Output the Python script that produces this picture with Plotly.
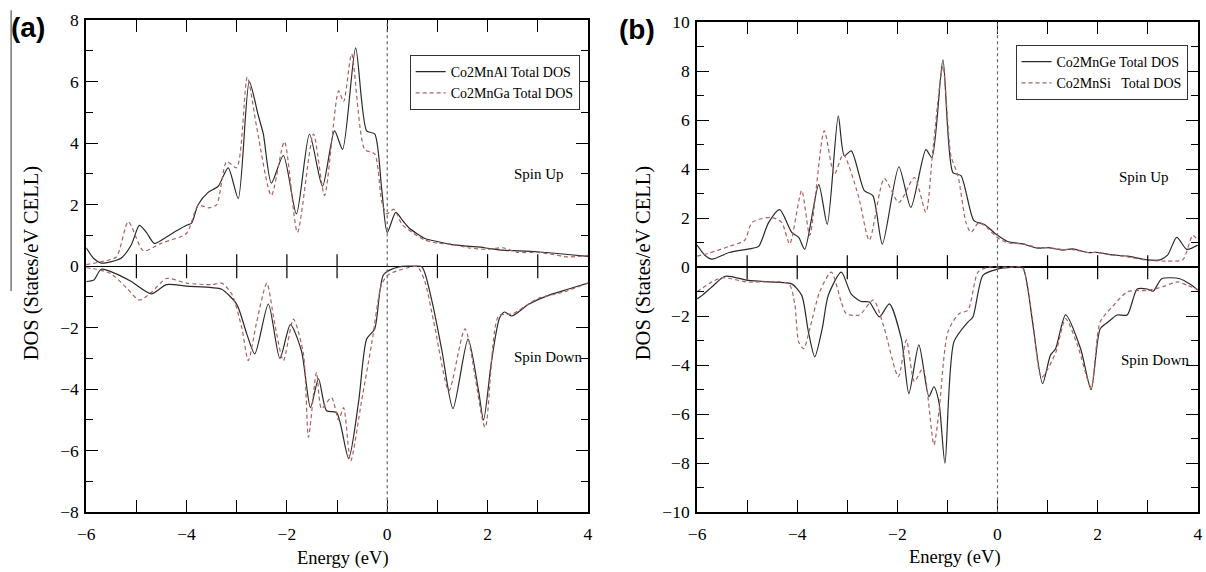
import plotly.graph_objects as go

# ---------------- data ----------------
# Panel (a) spin up
a_up_al_x = [-6.0, -5.85, -5.7, -5.5, -5.3, -5.1, -4.94, -4.8, -4.64, -4.4, -4.2, -4.0, -3.9, -3.77, -3.57, -3.37, -3.17, -2.97, -2.75, -2.57, -2.47, -2.31, -2.07, -1.81, -1.55, -1.29, -1.05, -0.89, -0.63, -0.41, -0.25, -0.11, 0.0, 0.17, 0.3, 0.43, 0.6, 0.75, 1.0, 1.29, 1.6, 1.94, 2.3, 2.62, 3.0, 3.28, 3.6, 4.0]
a_up_al_y = [0.6, 0.25, 0.1, 0.15, 0.27, 0.7, 1.33, 1.1, 0.74, 0.95, 1.15, 1.33, 1.4, 2.0, 2.4, 2.6, 3.2, 2.2, 6.0, 4.9, 4.3, 2.7, 3.6, 1.7, 4.3, 2.6, 4.4, 3.8, 7.1, 4.4, 4.3, 2.5, 1.1, 1.75, 1.5, 1.25, 1.05, 0.9, 0.8, 0.7, 0.65, 0.6, 0.52, 0.5, 0.47, 0.43, 0.38, 0.32]
a_up_ga_x = [-6.0, -5.7, -5.4, -5.16, -4.86, -4.5, -4.0, -3.77, -3.55, -3.4, -3.2, -3.0, -2.79, -2.6, -2.31, -2.05, -1.79, -1.47, -1.25, -0.97, -0.87, -0.71, -0.45, -0.25, -0.11, -0.01, 0.13, 0.3, 0.5, 0.75, 1.0, 1.3, 1.6, 2.0, 2.3, 2.6, 3.0, 3.3, 3.6, 4.0]
a_up_ga_y = [0.05, 0.15, 0.3, 1.45, 0.5, 0.75, 1.07, 1.97, 1.9, 2.0, 3.4, 3.2, 6.15, 4.5, 2.3, 4.05, 1.1, 4.3, 2.3, 5.7, 5.35, 6.9, 3.8, 3.65, 2.1, 1.7, 1.85, 1.35, 1.1, 0.85, 0.75, 0.72, 0.6, 0.55, 0.6, 0.45, 0.45, 0.38, 0.3, 0.35]
# Panel (a) spin down
a_dn_al_x = [-6.0, -5.85, -5.7, -5.4, -5.1, -4.7, -4.4, -4.0, -3.5, -3.3, -3.0, -2.8, -2.64, -2.37, -2.14, -1.93, -1.71, -1.53, -1.37, -1.21, -1.01, -0.77, -0.57, -0.41, -0.25, -0.07, 0.23, 0.5, 0.69, 0.89, 1.09, 1.31, 1.61, 1.82, 1.92, 2.08, 2.24, 2.34, 2.48, 2.82, 3.28, 3.6, 4.0]
a_dn_al_y = [-0.5, -0.45, -0.1, -0.25, -0.5, -0.9, -0.6, -0.65, -0.7, -0.75, -1.24, -2.2, -2.85, -1.23, -3.0, -1.9, -2.75, -4.6, -3.66, -4.7, -4.76, -6.25, -4.4, -2.37, -2.04, -0.27, -0.02, 0.0, -0.02, -1.13, -2.75, -4.63, -2.37, -4.05, -5.0, -3.07, -1.68, -1.49, -1.62, -1.24, -0.91, -0.75, -0.55]
a_dn_ga_x = [-6.0, -5.8, -5.5, -5.2, -4.94, -4.7, -4.4, -4.0, -3.5, -3.3, -3.1, -2.9, -2.77, -2.6, -2.4, -2.25, -2.07, -1.87, -1.67, -1.57, -1.41, -1.31, -1.11, -0.97, -0.87, -0.73, -0.51, -0.31, -0.11, 0.03, 0.3, 0.6, 0.75, 0.95, 1.23, 1.55, 1.95, 2.22, 2.5, 3.0, 3.5, 4.0]
a_dn_ga_y = [-0.05, -0.1, -0.25, -0.7, -1.1, -0.85, -0.4, -0.55, -0.6, -0.55, -0.9, -2.0, -3.07, -1.8, -0.55, -1.8, -3.07, -1.72, -2.85, -5.56, -3.46, -4.63, -4.27, -5.0, -4.6, -6.34, -4.37, -2.52, -0.58, -0.27, -0.1, -0.02, -0.5, -2.0, -4.05, -2.04, -5.24, -1.62, -1.55, -1.05, -0.85, -0.55]

# Panel (b) spin up
b_up_ge_x = [-6.0, -5.85, -5.7, -5.36, -4.9, -4.77, -4.57, -4.35, -4.11, -3.97, -3.85, -3.57, -3.4, -3.18, -3.06, -2.92, -2.66, -2.49, -2.3, -1.97, -1.73, -1.43, -1.31, -1.09, -0.89, -0.73, -0.47, -0.27, 0.0, 0.2, 0.5, 0.8, 1.0, 1.3, 1.5, 1.8, 2.0, 2.3, 2.6, 3.0, 3.25, 3.4, 3.58, 3.78, 4.0]
b_up_ge_y = [0.9, 0.5, 0.33, 0.6, 0.77, 0.85, 1.83, 2.35, 1.42, 1.22, 0.73, 3.37, 1.75, 6.18, 4.55, 4.75, 3.13, 2.92, 0.94, 4.1, 2.44, 4.8, 4.47, 8.46, 3.86, 3.74, 1.9, 1.75, 1.3, 1.05, 0.95, 0.78, 0.8, 0.7, 0.75, 0.6, 0.6, 0.5, 0.45, 0.3, 0.3, 0.5, 1.22, 0.73, 0.9]
b_up_si_x = [-6.0, -5.8, -5.36, -5.05, -4.9, -4.51, -4.31, -4.15, -3.91, -3.75, -3.46, -3.26, -3.08, -2.78, -2.56, -2.26, -1.97, -1.66, -1.43, -1.29, -1.09, -0.93, -0.79, -0.63, -0.53, -0.37, -0.2, 0.0, 0.2, 0.5, 0.8, 1.0, 1.3, 1.5, 1.8, 2.0, 2.3, 2.6, 3.0, 3.4, 3.7, 3.9, 4.0]
b_up_si_y = [0.45, 0.55, 0.85, 1.1, 1.83, 2.03, 1.83, 0.95, 3.13, 1.3, 5.57, 3.78, 4.6, 2.92, 1.1, 3.62, 2.64, 3.66, 2.24, 4.8, 8.2, 4.55, 3.74, 1.83, 1.42, 1.83, 1.6, 1.2, 1.0, 0.95, 0.8, 0.8, 0.72, 0.72, 0.6, 0.6, 0.5, 0.42, 0.28, 0.25, 0.3, 1.3, 1.1]
# Panel (b) spin down
b_dn_ge_x = [-6.0, -5.9, -5.7, -5.44, -4.97, -4.45, -4.11, -3.91, -3.78, -3.65, -3.5, -3.38, -3.12, -2.92, -2.72, -2.56, -2.36, -2.16, -1.92, -1.77, -1.57, -1.37, -1.27, -1.17, -1.05, -0.87, -0.59, -0.49, -0.29, 0.0, 0.3, 0.5, 0.6, 0.7, 0.9, 1.06, 1.16, 1.36, 1.66, 1.87, 2.05, 2.21, 2.39, 2.59, 2.79, 2.99, 3.11, 3.28, 3.64, 3.85, 4.0]
b_dn_ge_y = [-1.3, -1.15, -0.8, -0.37, -0.54, -0.61, -0.68, -1.15, -2.6, -3.66, -2.5, -1.15, -0.2, -1.1, -1.4, -1.42, -2.03, -1.5, -2.93, -5.16, -3.17, -5.28, -4.88, -5.5, -8.0, -3.05, -2.24, -2.03, -0.33, -0.08, 0.0, 0.0, -0.8, -2.24, -4.75, -3.58, -3.33, -1.95, -3.33, -5.0, -2.52, -2.24, -1.95, -1.95, -0.89, -0.89, -0.98, -0.47, -0.47, -0.7, -0.94]
b_dn_si_x = [-6.0, -5.7, -5.5, -5.0, -4.17, -4.05, -3.97, -3.87, -3.75, -3.55, -3.32, -3.12, -3.02, -2.76, -2.48, -2.28, -1.98, -1.82, -1.66, -1.49, -1.27, -1.17, -0.99, -0.77, -0.59, -0.39, -0.19, 0.0, 0.3, 0.5, 0.6, 0.7, 0.88, 1.16, 1.36, 1.6, 1.87, 2.05, 2.3, 2.6, 3.0, 3.3, 3.6, 3.8, 4.0]
b_dn_si_y = [-1.0, -0.6, -0.43, -0.6, -0.68, -1.5, -3.05, -3.33, -2.52, -1.0, -0.2, -1.42, -1.9, -1.95, -1.34, -2.36, -4.47, -2.97, -4.67, -4.13, -7.25, -5.9, -2.64, -1.9, -1.75, -0.2, 0.0, 0.0, 0.0, 0.0, -0.8, -2.1, -4.5, -3.5, -2.1, -3.2, -4.9, -2.24, -1.6, -1.0, -0.95, -0.8, -0.6, -0.75, -0.9]

names_a = ["Co2MnAl Total DOS", "Co2MnGa Total DOS"]
names_b = ["Co2MnGe Total DOS", "Co2MnSi\u00a0\u00a0 Total DOS"]
x_tick_vals = [-6, -5, -4, -3, -2, -1, 0, 1, 2, 3, 4]
x_tick_text = ["\u22126", "", "\u22124", "", "\u22122", "", "0", "", "2", "", "4"]
ya_tick_vals = [-8, -6, -4, -2, 0, 2, 4, 6, 8]
yb_tick_vals = [-10, -8, -6, -4, -2, 0, 2, 4, 6, 8, 10]
mid_ticks = [-5, -4, -3, -2, -1, 1, 2, 3]

SERIF = "Liberation Serif"
SOLID_C = "#2a2a2a"
DASH_C = "rgb(172,96,96)"

fig = go.Figure()

def add_pair(xs, ys, xd, yd, xax, yax, name_s, name_d, legend, show):
    fig.add_trace(go.Scatter(x=xs, y=ys, mode="lines", name=name_s, xaxis=xax, yaxis=yax,
                             line=dict(color=SOLID_C, width=1.2, shape="spline", smoothing=0.7),
                             legend=legend, showlegend=show, legendrank=1))
    fig.add_trace(go.Scatter(x=xd, y=yd, mode="lines", name=name_d, xaxis=xax, yaxis=yax,
                             line=dict(color=DASH_C, width=1.2, dash="4px,3px", shape="spline", smoothing=0.7),
                             legend=legend, showlegend=show, legendrank=2))

add_pair(a_up_al_x, a_up_al_y, a_up_ga_x, a_up_ga_y, "x", "y", names_a[0], names_a[1], "legend", True)
add_pair(a_dn_al_x, a_dn_al_y, a_dn_ga_x, a_dn_ga_y, "x", "y", names_a[0], names_a[1], "legend", False)
add_pair(b_up_ge_x, b_up_ge_y, b_up_si_x, b_up_si_y, "x2", "y2", names_b[0], names_b[1], "legend2", True)
add_pair(b_dn_ge_x, b_dn_ge_y, b_dn_si_x, b_dn_si_y, "x2", "y2", names_b[0], names_b[1], "legend2", False)

# Figure size; positions below are given in target-picture pixels and mapped to the page
# (the page keeps an 8px body margin and the picture is slightly scaled).
W, H = 1206, 572
OFF, SX, SY = 8, 0.987, 0.969

def px(x):
    return (x / SX - OFF) / W

def py(y):
    return 1 - (y / SY - OFF) / H

tickfont = dict(family=SERIF, size=17.5, color="black")

def xaxis(domain, anchor):
    return dict(domain=domain, anchor=anchor, range=[-6, 4], tickmode="array",
                tickvals=x_tick_vals, ticktext=x_tick_text, ticks="inside", ticklen=12,
                tickwidth=1.2, tickcolor="black", showline=True, linecolor="black",
                linewidth=1.8, mirror="ticks", showgrid=False, zeroline=False,
                tickfont=tickfont, ticklabelstandoff=5)

def yaxis(domain, anchor, rng, vals, zw):
    return dict(domain=domain, anchor=anchor, range=rng, tickmode="array",
                tickvals=vals, ticktext=[str(v).replace("-", "\u2212") for v in vals],
                ticks="inside", ticklen=12, tickwidth=1.2, tickcolor="black",
                minor=dict(ticks="inside", dtick=1, ticklen=7, tickwidth=1.2, tickcolor="black"),
                showline=True, linecolor="black", linewidth=1.8, mirror="ticks",
                showgrid=False, zeroline=True, zerolinecolor="black", zerolinewidth=zw,
                tickfont=tickfont, ticklabelstandoff=2)

xa_dom = [px(85), px(586)]
ya_dom = [py(512), py(18)]
xb_dom = [px(695), min(px(1195), 1.0)]
yb_dom = [py(512), py(20)]

shapes = []
for xr, yr in (("x", "y"), ("x2", "y2")):
    shapes.append(dict(type="line", xref=xr, yref=yr + " domain", x0=0, x1=0, y0=0, y1=1,
                       line=dict(color="#666", width=1.2, dash="dot")))
    for k in mid_ticks:
        shapes.append(dict(type="line", xref=xr, yref=yr, ysizemode="pixel", yanchor=0,
                           x0=k, x1=k, y0=-12, y1=12, line=dict(color="black", width=1.2)))
# thin vertical rule at the far left of the original figure
shapes.append(dict(type="line", xref="paper", yref="paper", x0=px(10), x1=px(10),
                   y0=py(8), y1=py(290), line=dict(color="#555", width=1.2)))

ann_font = dict(family=SERIF, size=15, color="black")
C = dict(showarrow=False, xanchor="center", yanchor="middle")
annotations = [
    dict(text="(a)", xref="paper", yref="paper", x=px(27), y=py(25),
         font=dict(family="Liberation Sans", size=28, color="black", weight="bold"), **C),
    dict(text="(b)", xref="paper", yref="paper", x=px(635), y=py(27),
         font=dict(family="Liberation Sans", size=28, color="black", weight="bold"), **C),
    dict(text="DOS (States/eV CELL)", xref="paper", yref="paper", x=px(30), y=py(262),
         textangle=-90, font=dict(family=SERIF, size=20.5, color="black"), **C),
    dict(text="DOS (States/eV CELL)", xref="paper", yref="paper", x=px(641), y=py(262),
         textangle=-90, font=dict(family=SERIF, size=20.5, color="black"), **C),
    dict(text="Energy (eV)", xref="paper", yref="paper", x=px(341), y=py(559),
         font=dict(family=SERIF, size=18.5, color="black"), **C),
    dict(text="Energy (eV)", xref="paper", yref="paper", x=px(953), y=py(558),
         font=dict(family=SERIF, size=18.5, color="black"), **C),
    dict(text="Spin Up", xref="x", yref="y", x=3.02, y=3.0, font=ann_font, **C),
    dict(text="Spin Down", xref="x", yref="y", x=3.2, y=-2.95, font=ann_font, **C),
    dict(text="Spin Up", xref="x2", yref="y2", x=2.92, y=3.7, font=ann_font, **C),
    dict(text="Spin Down", xref="x2", yref="y2", x=3.15, y=-3.78, font=ann_font, **C),
]

legend_style = dict(bgcolor="white", bordercolor="#333", borderwidth=1,
                    font=dict(family=SERIF, size=14, color="black"),
                    xanchor="left", yanchor="top", tracegroupgap=0, itemwidth=30)

fig.update_layout(
    width=W, height=H, margin=dict(l=0, r=0, t=0, b=0),
    paper_bgcolor="white", plot_bgcolor="white",
    xaxis=xaxis(xa_dom, "y"), yaxis=yaxis(ya_dom, "x", [-8, 8], ya_tick_vals, 1.2),
    xaxis2=xaxis(xb_dom, "y2"), yaxis2=yaxis(yb_dom, "x2", [-10, 10], yb_tick_vals, 2.2),
    legend=dict(x=px(408), y=py(53), **legend_style),
    legend2=dict(x=px(1013), y=py(43), **legend_style),
    shapes=shapes, annotations=annotations,
)

fig.write_html("out.html")
